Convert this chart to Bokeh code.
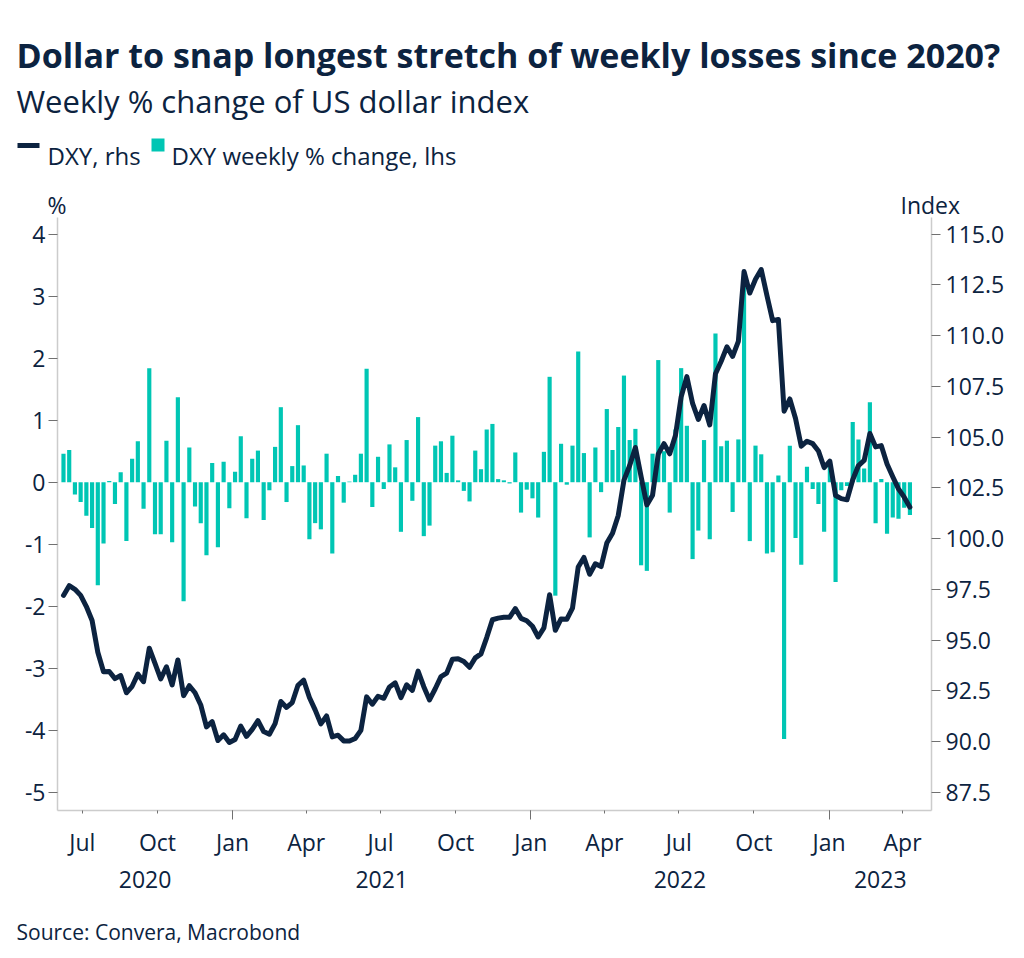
import pandas as pd
from bokeh.plotting import figure
from bokeh.layouts import column
from bokeh.models import (Range1d, LinearAxis, DatetimeAxis, FixedTicker, Label,
                          ColumnDataSource, PrintfTickFormatter, DatetimeTickFormatter)
from bokeh.embed import file_html
from bokeh.resources import INLINE

# ---------------- data ----------------
TITLE = "Dollar to snap longest stretch of weekly losses since 2020?"
SUBTITLE = "Weekly % change of US dollar index"
SOURCE = "Source: Convera, Macrobond"
LINE_NAME = "DXY, rhs"
BAR_NAME = "DXY weekly % change, lhs"
LEFT_UNIT = "%"
RIGHT_UNIT = "Index"

first_week = "2020-06-08"

weekly_change = [
    0.46, 0.52, -0.20, -0.32, -0.54, -0.74, -1.66, -0.99, 0.02, -0.35,
    0.16, -0.95, 0.38, 0.66, -0.43, 1.84, -0.84, -0.84, 0.67, -0.97,
    1.37, -1.92, 0.56, -0.39, -0.66, -1.18, 0.31, -1.05, 0.33, -0.42,
    0.17, 0.74, -0.58, 0.38, 0.51, -0.61, -0.13, 0.57, 1.21, -0.32,
    0.26, 0.92, 0.27, -0.92, -0.66, -0.76, 0.46, -1.15, 0.10, -0.33,
    0.01, 0.12, 0.46, 1.83, -0.40, 0.41, -0.11, 0.61, 0.24, -0.80,
    0.68, -0.30, 1.05, -0.87, -0.70, 0.59, 0.66, 0.15, 0.75, 0.03,
    -0.14, -0.31, 0.51, 0.21, 0.85, 0.94, 0.05, 0.03, -0.02, 0.48,
    -0.49, -0.12, -0.26, -0.57, 0.49, 1.70, -1.83, 0.62, -0.04, 0.59,
    2.11, 0.47, -0.89, 0.56, -0.16, 1.18, 0.52, 0.89, 1.72, 0.68,
    0.86, -1.34, -1.43, 0.46, 1.97, 0.50, -0.49, 0.85, 1.84, 0.91,
    -1.24, -0.78, 0.68, -0.92, 2.40, 0.58, 0.67, -0.48, 0.69, 3.15,
    -0.95, 0.59, 0.45, -1.15, -1.13, 0.11, -4.14, 0.59, -0.90, -1.33,
    0.25, -0.11, -0.35, -0.80, 0.30, -1.61, -0.13, -0.06, 0.97, 0.69,
    0.22, 1.29, -0.66, 0.05, -0.83, -0.57, -0.59, -0.41, -0.53,
]

dxy = [
    97.20, 97.68, 97.50, 97.20, 96.65, 95.96, 94.40, 93.44, 93.45, 93.10,
    93.25, 92.40, 92.72, 93.32, 92.95, 94.60, 93.85, 93.08, 93.68, 92.79,
    94.02, 92.26, 92.75, 92.40, 91.80, 90.72, 90.98, 90.05, 90.33, 89.95,
    90.10, 90.76, 90.25, 90.60, 91.03, 90.49, 90.36, 90.88, 91.97, 91.68,
    91.92, 92.77, 93.02, 92.17, 91.56, 90.87, 91.26, 90.23, 90.31, 90.03,
    90.02, 90.15, 90.55, 92.20, 91.84, 92.23, 92.13, 92.69, 92.89, 92.16,
    92.79, 92.52, 93.47, 92.70, 92.05, 92.60, 93.20, 93.37, 94.05, 94.08,
    93.94, 93.66, 94.12, 94.32, 95.12, 96.00, 96.08, 96.12, 96.12, 96.55,
    96.07, 95.95, 95.68, 95.15, 95.60, 97.23, 95.48, 96.04, 96.02, 96.57,
    98.60, 99.07, 98.24, 98.76, 98.62, 99.78, 100.26, 101.14, 102.88, 103.60,
    104.49, 103.05, 101.66, 102.14, 104.17, 104.68, 104.18, 105.08, 106.98, 107.98,
    106.66, 105.87, 106.56, 105.60, 108.12, 108.74, 109.45, 108.98, 109.72, 113.16,
    112.10, 112.78, 113.26, 111.98, 110.74, 110.80, 106.28, 106.88, 105.92, 104.55,
    104.80, 104.68, 104.32, 103.50, 103.82, 102.12, 101.97, 101.91, 102.90, 103.60,
    103.85, 105.18, 104.52, 104.58, 103.68, 103.05, 102.45, 102.04, 101.55,
]

left_ticks = [-5, -4, -3, -2, -1, 0, 1, 2, 3, 4]
right_ticks = [87.5, 90.0, 92.5, 95.0, 97.5, 100.0, 102.5, 105.0, 107.5, 110.0, 112.5, 115.0]
month_ticks = ["2020-07-01", "2020-10-01", "2021-01-01", "2021-04-01", "2021-07-01",
               "2021-10-01", "2022-01-01", "2022-04-01", "2022-07-01", "2022-10-01",
               "2023-01-01", "2023-04-01"]
month_labels = ["Jul", "Oct", "Jan", "Apr", "Jul", "Oct", "Jan", "Apr", "Jul", "Oct", "Jan", "Apr"]
year_ticks = ["2021-01-01", "2022-01-01", "2023-01-01"]
year_labels = ["2020", "2021", "2022", "2023"]

# ---------------- style / layout ----------------
NAVY = "#0c2340"
TEAL = "#00c6b4"
AXIS_GREY = "#cccccc"
TICK_GREY = "#707070"
FONT = "Open Sans"
TICK_SIZE = "23px"

W = 1016
HEAD_H = 217          # header (title, subtitle, legend, unit labels)
MAIN_H = 683          # chart
FOOT_H = 50           # source
FL, FR, FB = 57, W - 931, 90


def ms(ts):
    return pd.Timestamp(ts).value // 10**6


def no_align(f):
    if "frame_align" in f.properties():
        f.frame_align = False


def blank_fig(height):
    f = figure(width=W, height=height, x_range=Range1d(0, W), y_range=Range1d(height, 0),
               x_axis_location=None, y_axis_location=None, min_border=0,
               output_backend="svg", toolbar_location=None)
    f.grid.visible = False
    f.outline_line_color = None
    f.background_fill_color = "white"
    f.border_fill_color = "white"
    f.title.visible = False
    no_align(f)
    return f


def text(f, s, x, y, size, bold=False, align="left"):
    f.add_layout(Label(x=x, y=y, text=s, text_font=FONT, text_font_size=f"{size}px",
                       text_font_style="bold" if bold else "normal", text_color=NAVY,
                       text_align=align, text_baseline="alphabetic"))


# ---------------- header ----------------
head = blank_fig(HEAD_H)
text(head, TITLE, 16, 54, 34, bold=True)
text(head, SUBTITLE, 16, 100, 31)
head.segment(x0=[17], y0=[145], x1=[39], y1=[145], line_color=NAVY, line_width=5)
text(head, LINE_NAME, 47, 155, 24)
head.quad(left=[151], right=[164], top=[138], bottom=[151], fill_color=TEAL, line_color=None)
text(head, BAR_NAME, 171, 155, 24)
text(head, LEFT_UNIT, 47, 204, 23)
text(head, RIGHT_UNIT, 900, 204, 23)

# ---------------- main chart ----------------
dates = pd.date_range(first_week, periods=len(dxy), freq="7D")
src = ColumnDataSource(dict(date=dates, chg=weekly_change, dxy=dxy))

x_start = pd.Timestamp("2020-05-31 16:00")
x_end = pd.Timestamp("2023-05-06 10:00")

p = figure(width=W, height=MAIN_H, x_axis_type="datetime",
           x_range=Range1d(x_start, x_end), y_range=Range1d(-5.295, 4.2695),
           output_backend="svg", toolbar_location=None,
           min_border_left=FL, min_border_right=FR, min_border_top=0, min_border_bottom=FB)
p.extra_y_ranges = {"idx": Range1d(86.60, 115.823)}
p.outline_line_color = None
p.xgrid.visible = False
p.ygrid.visible = False
p.background_fill_color = "white"
p.border_fill_color = "white"
p.title.visible = False
no_align(p)

bar_width_ms = 5.1 * 86400000
bars = p.vbar(x="date", top="chg", bottom=0, width=bar_width_ms, source=src,
              fill_color=TEAL, line_color=None)
line = p.line(x="date", y="dxy", y_range_name="idx", source=src,
              line_color=NAVY, line_width=5, line_join="round", line_cap="round")

ly = p.yaxis[0]
ly.ticker = FixedTicker(ticks=left_ticks)
ly.formatter = PrintfTickFormatter(format="%d")

ry = LinearAxis(y_range_name="idx", ticker=FixedTicker(ticks=right_ticks),
                formatter=PrintfTickFormatter(format="%.1f"))
p.add_layout(ry, "right")

for ax, standoff in ((ly, 3), (ry, 5)):
    ax.axis_line_color = AXIS_GREY
    ax.axis_line_width = 1.5
    ax.major_tick_line_color = TICK_GREY
    ax.major_tick_out = 9
    ax.major_tick_in = 0
    ax.minor_tick_line_color = None
    ax.major_label_text_font = FONT
    ax.major_label_text_font_size = TICK_SIZE
    ax.major_label_text_color = NAVY
    ax.major_label_standoff = standoff

xa = p.xaxis[0]
xa.ticker = FixedTicker(ticks=[ms(t) for t in month_ticks],
                        minor_ticks=[ms(t) for t in year_ticks])
xa.formatter = DatetimeTickFormatter(days="%b", months="%b", years="%b")
xa.major_label_overrides = {ms(t): lab for t, lab in zip(month_ticks, month_labels)}
xa.axis_line_color = AXIS_GREY
xa.axis_line_width = 1.5
xa.major_tick_line_color = TICK_GREY
xa.minor_tick_line_color = TICK_GREY
xa.major_tick_out = 3
xa.major_tick_in = 0
xa.minor_tick_out = 9
xa.minor_tick_in = 0
xa.major_label_text_font = FONT
xa.major_label_text_font_size = TICK_SIZE
xa.major_label_text_color = NAVY
xa.major_label_standoff = 6

# second row of the time axis: years centred under the visible part of each year
bounds = [x_start] + [pd.Timestamp(t) for t in year_ticks] + [x_end]
year_pos = [ms(bounds[i] + (bounds[i + 1] - bounds[i]) / 2) for i in range(len(year_labels))]
ya = DatetimeAxis(ticker=FixedTicker(ticks=year_pos),
                  formatter=DatetimeTickFormatter(days="%Y", months="%Y", years="%Y"))
ya.major_label_overrides = {pos: lab for pos, lab in zip(year_pos, year_labels)}
ya.axis_line_color = None
ya.major_tick_line_color = None
ya.minor_tick_line_color = None
ya.major_tick_out = 0
ya.major_tick_in = 0
ya.major_label_text_font = FONT
ya.major_label_text_font_size = TICK_SIZE
ya.major_label_text_color = NAVY
ya.major_label_standoff = 10
p.add_layout(ya, "below")

# ---------------- footer ----------------
foot = blank_fig(FOOT_H)
text(foot, SOURCE, 16, 31, 21)

layout = column(head, p, foot, spacing=0)
open("out.html", "w").write(file_html(layout, INLINE))
